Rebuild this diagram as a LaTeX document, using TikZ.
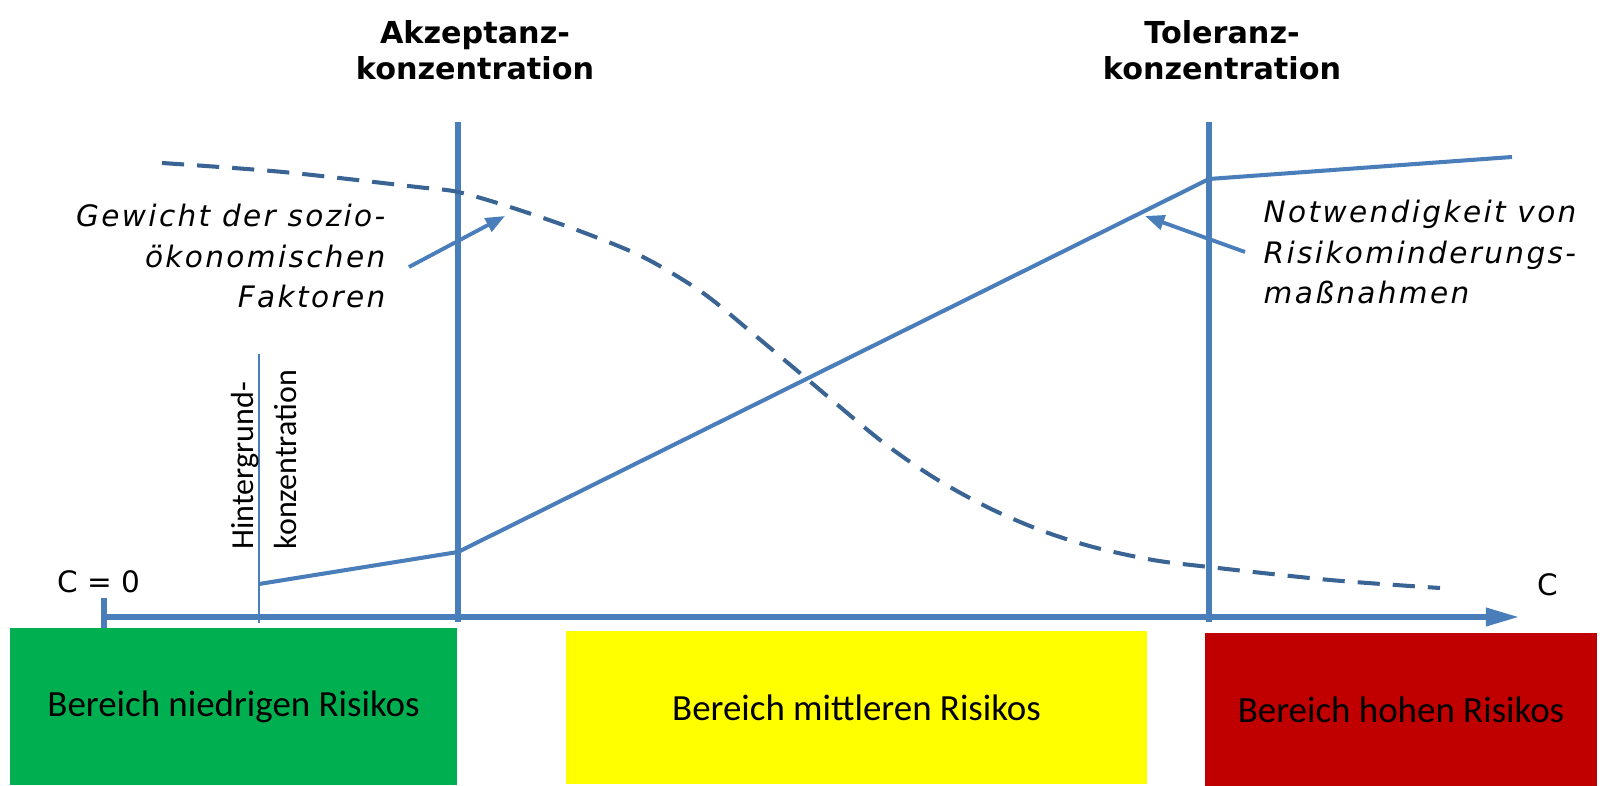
\documentclass[tikz,border=0pt]{standalone}
\usepackage{fontspec}
\setmainfont{Carlito}
\newfontfamily\vfont{DejaVu Sans}
\newfontfamily\notefont[LetterSpace=8]{DejaVu Sans}
\usetikzlibrary{arrows.meta, positioning, calc}
\definecolor{rblue}{HTML}{4A7EBB}
\definecolor{rdash}{HTML}{3A6494}
\definecolor{rlow}{HTML}{00B050}
\definecolor{rmid}{HTML}{FFFF00}
\definecolor{rhigh}{HTML}{C00000}
\tikzset{
  riskbox/.style={fill=#1, draw=none, inner sep=0pt, text=black,
                  font=\fontsize{10.5}{12}\selectfont},
  limitline/.style={draw=rblue, line width=1.6pt},
  axisline/.style={draw=rblue, line width=1.45pt, -{Triangle[length=9.4pt, width=5pt]}},
  needline/.style={draw=rblue, line width=1.15pt, line join=round},
  weightline/.style={draw=rdash, line width=1.15pt, dash pattern=on 6.3pt off 3.7pt},
  notearr/.style={draw=rblue, line width=1.1pt, -{Triangle[length=5.5pt, width=4.2pt]}},
  limittitle/.style={font=\vfont\bfseries\fontsize{8.6}{10.2}\selectfont, align=center},
  note/.style={font=\notefont\itshape\fontsize{8.4}{11.4}\selectfont, inner sep=0pt},
  axlabel/.style={font=\vfont\fontsize{8.4}{10}\selectfont},
}

\begin{document}
\begin{tikzpicture}[x=0.01cm, y=-0.01cm]
  \useasboundingbox (0,0) rectangle (1604,786);

  %% ── Key points ──
  \coordinate (c0)      at (104,617);
  \coordinate (cend)    at (1519,617);
  \coordinate (tick top) at (104,598);
  \coordinate (tick bot) at (104,628);
  \coordinate (acc top) at (458,122);
  \coordinate (acc bot) at (458,622);
  \coordinate (tol top) at (1209,122);
  \coordinate (tol bot) at (1209,622);
  \coordinate (bg top)  at (259,354);
  \coordinate (bg bot)  at (259,623);
  \coordinate (need0) at (259,584);
  \coordinate (need1) at (458,552);
  \coordinate (need2) at (1209,179);
  \coordinate (need3) at (1512,157);

  %% ── Risk areas ──
  \node[riskbox=rlow, minimum width=4.47cm, minimum height=1.57cm] (low) at (233.5,706.5) {Bereich niedrigen Risikos};
  \node[riskbox=rmid, minimum width=5.81cm, minimum height=1.53cm] (mid) at (856.5,707.5) {Bereich mittleren Risikos};
  \node[riskbox=rhigh, minimum width=3.92cm, minimum height=1.53cm] (high) at (1401,709.5) {Bereich hohen Risikos};

  %% ── Axis ──
  \draw[limitline, line width=1.45pt] (tick top) -- (tick bot);
  \draw[axisline] (c0) -- (cend);
  \node[axlabel] (czero) at (99,582) {C = 0};
  \node[axlabel] (clabel) at (1548,585) {C};

  %% ── Limits ──
  \draw[limitline] (acc top) -- (acc bot);
  \draw[limitline] (tol top) -- (tol bot);
  \draw[rblue, line width=0.45pt] (bg top) -- (bg bot);
  \node[limittitle] (acc) at (475,50) {Akzeptanz-\\konzentration};
  \node[limittitle] (tol) at (1222,50) {Toleranz-\\konzentration};
  \node[rotate=90, align=left, inner sep=0pt, anchor=south west,
        font=\fontsize{9.1}{12}\selectfont] (bg) at (297,550) {Hintergrund-\\konzentration};

  %% ── Curves ──
  \draw[needline] (need0) -- (need1) -- (need2) -- (need3);
  \draw[weightline] plot[smooth, tension=0.5] coordinates {
    (162,163) (283,172) (417,187) (458,192) (510,207) (577,230) (643,257)
    (703,293) (757,337) (807,379) (880,440) (933,477) (987,507) (1040,530)
    (1093,547) (1153,560) (1209,567) (1330,580) (1440,588)};

  %% ── Notes ──
  \node[note, align=right, anchor=east] (weight) at (386,256) {Gewicht der sozio-\\ökonomischen\\Faktoren};
  \node[note, align=left, anchor=west] (need) at (1263,252) {Notwendigkeit von\\Risikominderungs-\\maßnahmen};
  \coordinate (weight tail) at (409,267);
  \coordinate (weight tip)  at (505,216);
  \coordinate (need tail)   at (1245,252);
  \coordinate (need tip)    at (1145,216);
  \draw[notearr] (weight tail) -- (weight tip);
  \draw[notearr] (need tail) -- (need tip);
\end{tikzpicture}
\end{document}
